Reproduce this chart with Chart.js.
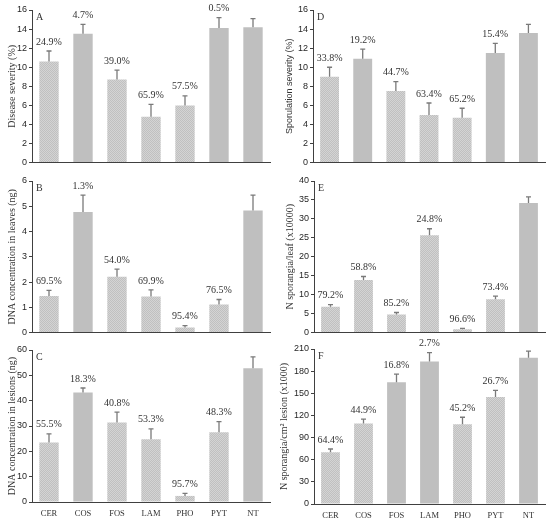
<!DOCTYPE html>
<html>
<head>
<meta charset="utf-8">
<script src="https://cdn.jsdelivr.net/npm/chart.js@4.4.0/dist/chart.umd.min.js"></script>
<style>
    body { margin: 0; background: #fff; }
    #wrap { position: relative; width: 550px; height: 523px; overflow: hidden; }
    #wrap canvas { position: absolute; }
</style>
</head>
<body>
<div id="wrap"></div>
<script>
// Dữ liệu
const categories = ['CER', 'COS', 'FOS', 'LAM', 'PHO', 'PYT', 'NT'];

const diseaseSeverity = [10.6, 13.5, 8.7, 4.8, 6.0, 14.1, 14.2];
const diseaseSeverityErr = [1.1, 1.0, 1.0, 1.3, 1.0, 1.1, 0.9];
const diseaseSeverityPct = ['24.9%', '4.7%', '39.0%', '65.9%', '57.5%', '0.5%', ''];

const sporulationSeverity = [9.0, 10.9, 7.5, 5.0, 4.7, 11.5, 13.6];
const sporulationSeverityErr = [1.0, 1.0, 1.0, 1.25, 1.0, 1.0, 0.9];
const sporulationSeverityPct = ['33.8%', '19.2%', '44.7%', '63.4%', '65.2%', '15.4%', ''];

const dnaLeaves = [1.45, 4.77, 2.21, 1.43, 0.2, 1.11, 4.83];
const dnaLeavesErr = [0.22, 0.67, 0.3, 0.26, 0.08, 0.2, 0.61];
const dnaLeavesPct = ['69.5%', '1.3%', '54.0%', '69.9%', '95.4%', '76.5%', ''];

const sporangiaLeaf = [6.8, 13.9, 4.8, 25.7, 0.9, 8.8, 34.2];
const sporangiaLeafErr = [0.6, 0.9, 0.5, 1.7, 0.2, 0.8, 1.6];
const sporangiaLeafPct = ['79.2%', '58.8%', '85.2%', '24.8%', '96.6%', '73.4%', ''];

const dnaLesions = [23.5, 43.2, 31.4, 24.8, 2.4, 27.5, 52.8];
const dnaLesionsErr = [3.4, 1.8, 4.1, 4.1, 1.0, 4.2, 4.5];
const dnaLesionsPct = ['55.5%', '18.3%', '40.8%', '53.3%', '95.7%', '48.3%', ''];

const sporangiaLesion = [70, 109, 165, 193, 108, 145, 198];
const sporangiaLesionErr = [4.5, 6, 11, 12, 9.5, 9, 9];
const sporangiaLesionPct = ['64.4%', '44.9%', '16.8%', '2.7%', '45.2%', '26.7%', ''];

const SERIF = '"Liberation Serif", "Times New Roman", serif';
const SANS = '"Liberation Sans", Arial, sans-serif';

// Cấu hình từng ô biểu đồ
const panels = [
    { letter: 'A', values: diseaseSeverity, errors: diseaseSeverityErr, pct: diseaseSeverityPct,
      title: 'Disease severity (%)', titleFont: SERIF, titleSize: 10, max: 16, step: 2,
      hatched: [1, 0, 1, 1, 1, 0, 0], xLabels: false,
      canvas: { l: 0, t: 0, w: 275, h: 170 }, plot: { l: 32, t: 10, r: 270, b: 164 }, titlePad: 6 },
    { letter: 'D', values: sporulationSeverity, errors: sporulationSeverityErr, pct: sporulationSeverityPct,
      title: 'Sporulation severity (%)', titleFont: SANS, titleSize: 9, max: 16, step: 2,
      hatched: [1, 0, 1, 1, 1, 0, 0], xLabels: false,
      canvas: { l: 275, t: 0, w: 275, h: 170 }, plot: { l: 313, t: 10, r: 545, b: 164 }, titlePad: 9 },
    { letter: 'B', values: dnaLeaves, errors: dnaLeavesErr, pct: dnaLeavesPct,
      title: 'DNA concentration in leaves (ng)', titleFont: SERIF, titleSize: 10, max: 6, step: 1,
      hatched: [1, 0, 1, 1, 1, 1, 0], xLabels: false,
      canvas: { l: 0, t: 170, w: 275, h: 170 }, plot: { l: 32, t: 181, r: 270, b: 334 }, titlePad: 6 },
    { letter: 'E', values: sporangiaLeaf, errors: sporangiaLeafErr, pct: sporangiaLeafPct,
      title: 'N sporangia/leaf (x10000)', titleFont: SERIF, titleSize: 10, max: 40, step: 5,
      hatched: [1, 1, 1, 1, 1, 1, 0], xLabels: false,
      canvas: { l: 275, t: 170, w: 275, h: 170 }, plot: { l: 314, t: 181, r: 545, b: 334 }, titlePad: 9 },
    { letter: 'C', values: dnaLesions, errors: dnaLesionsErr, pct: dnaLesionsPct,
      title: 'DNA concentration in lesions (ng)', titleFont: SERIF, titleSize: 10, max: 60, step: 10,
      hatched: [1, 0, 1, 1, 1, 1, 0], xLabels: true,
      canvas: { l: 0, t: 335, w: 275, h: 188 }, plot: { l: 32, t: 350, r: 270, b: 502 }, titlePad: 6 },
    { letter: 'F', values: sporangiaLesion, errors: sporangiaLesionErr, pct: sporangiaLesionPct,
      title: 'N sporangia/cm² lesion (x1000)', titleFont: SERIF, titleSize: 10, max: 210, step: 30,
      hatched: [1, 1, 0, 0, 1, 1, 0], xLabels: true,
      canvas: { l: 275, t: 330, w: 275, h: 193 }, plot: { l: 314, t: 349, r: 545, b: 504 }, titlePad: 3 },
];

// Mẫu tô ca-rô cho cột
function makeHatch() {
    const c = document.createElement('canvas');
    c.width = 2;
    c.height = 2;
    const g = c.getContext('2d');
    g.fillStyle = '#d4d4d4';
    g.fillRect(0, 0, 2, 2);
    g.fillStyle = '#c0c0c0';
    g.fillRect(0, 0, 1, 1);
    g.fillRect(1, 1, 1, 1);
    return g.createPattern(c, 'repeat');
}
const hatch = makeHatch();
const solidGrey = '#bfbfbf';

// Vẽ thanh sai số, nhãn phần trăm và chữ cái ô
const errorBarPlugin = {
    id: 'errorBars',
    afterDatasetsDraw(chart, args, opts) {
        const ctx = chart.ctx;
        const yScale = chart.scales.y;
        const meta = chart.getDatasetMeta(0);
        ctx.save();
        meta.data.forEach((bar, i) => {
            const top = yScale.getPixelForValue(opts.values[i] + opts.errors[i]);
            ctx.strokeStyle = '#7a7a7a';
            ctx.lineWidth = 1.3;
            ctx.beginPath();
            ctx.moveTo(bar.x, bar.y);
            ctx.lineTo(bar.x, top);
            ctx.moveTo(bar.x - 2.5, top);
            ctx.lineTo(bar.x + 2.5, top);
            ctx.stroke();
            if (opts.pct[i]) {
                ctx.fillStyle = '#333';
                ctx.font = '10px ' + SERIF;
                ctx.textAlign = 'center';
                ctx.textBaseline = 'middle';
                ctx.fillText(opts.pct[i], bar.x, top - 9);
            }
        });
        ctx.fillStyle = '#333';
        ctx.font = '10px ' + SERIF;
        ctx.textAlign = 'left';
        ctx.textBaseline = 'middle';
        ctx.fillText(opts.letter, chart.chartArea.left + 4, chart.chartArea.top + 7);
        ctx.restore();
    }
};

const wrap = document.getElementById('wrap');

panels.forEach((p) => {
    const cv = document.createElement('canvas');
    cv.width = p.canvas.w;
    cv.height = p.canvas.h;
    cv.style.left = p.canvas.l + 'px';
    cv.style.top = p.canvas.t + 'px';
    cv.style.width = p.canvas.w + 'px';
    cv.style.height = p.canvas.h + 'px';
    wrap.appendChild(cv);

    const yWidth = p.plot.l - p.canvas.l;
    const xHeight = p.canvas.t + p.canvas.h - p.plot.b;

    new Chart(cv, {
        type: 'bar',
        data: {
            labels: categories,
            datasets: [{
                data: p.values,
                backgroundColor: p.hatched.map((h) => h ? hatch : solidGrey),
                borderWidth: 0,
                categoryPercentage: 1,
                barPercentage: 0.57
            }]
        },
        plugins: [errorBarPlugin],
        options: {
            responsive: false,
            animation: false,
            devicePixelRatio: 1,
            layout: {
                padding: {
                    top: p.plot.t - p.canvas.t,
                    right: p.canvas.l + p.canvas.w - p.plot.r,
                    left: 0,
                    bottom: 0
                }
            },
            plugins: {
                legend: { display: false },
                tooltip: { enabled: false },
                errorBars: { values: p.values, errors: p.errors, pct: p.pct, letter: p.letter }
            },
            scales: {
                x: {
                    grid: { display: false, drawTicks: false },
                    border: { display: true, color: '#404040', width: 1 },
                    ticks: {
                        display: p.xLabels,
                        color: '#333',
                        padding: 7,
                        font: { family: SERIF, size: 8.5 }
                    },
                    afterFit(scale) { scale.height = xHeight; }
                },
                y: {
                    min: 0,
                    max: p.max,
                    ticks: {
                        stepSize: p.step,
                        color: '#262626',
                        padding: 2,
                        font: { family: SANS, size: 9 }
                    },
                    grid: { drawOnChartArea: false, drawTicks: true, tickLength: 3, color: '#404040' },
                    border: { display: true, color: '#404040', width: 1 },
                    title: {
                        display: true,
                        text: p.title,
                        color: '#333',
                        padding: { top: p.titlePad, bottom: 0 },
                        font: { family: p.titleFont, size: p.titleSize }
                    },
                    afterFit(scale) { scale.width = yWidth; }
                }
            }
        }
    });
});
</script>
</body>
</html>
